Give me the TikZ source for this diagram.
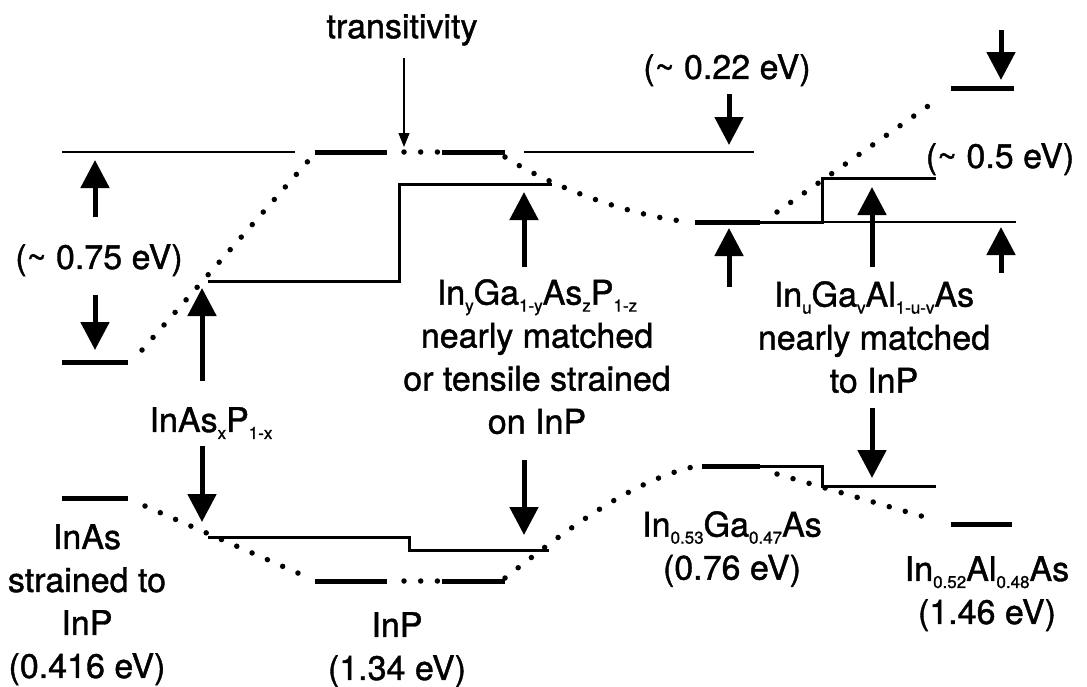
\documentclass[tikz,border=0pt]{standalone}
\usepackage{fontspec}
\setmainfont{TeX Gyre Heros}[FakeBold=1.2]
\usetikzlibrary{arrows.meta}
\newcommand{\lsb}[1]{\raisebox{-7pt}{\fontsize{17}{17}\selectfont #1}}

\begin{document}
\begin{tikzpicture}[
  x=1pt, y=-1pt,
  lbl/.style={inner sep=0pt, anchor=north, align=center, font=\fontsize{34}{43}\selectfont},
  reflevel/.style={line width=1.7pt},
  steplevel/.style={line width=3pt, line join=miter},
  bandbar/.style={line width=5pt},
  dotline/.style={line width=5.5pt, line cap=round, dash pattern=on 0pt off 16.7pt},
  bigarrow/.style={line width=5pt, -{Triangle[width=28pt,length=28pt]}},
  smallarrow/.style={line width=1.2pt, -{Triangle[width=11pt,length=14pt]}}
]
  \useasboundingbox (0,0) rectangle (1087,686);

  % --- Reference levels ---
  \draw[reflevel] (62,152) -- (295,152);
  \draw[reflevel] (524,152) -- (754,152);
  \draw[reflevel] (822,222) -- (1016,222);

  % --- Binaries and lattice-matched ternaries ---
  \draw[bandbar] (62,362) -- (128,362);
  \draw[bandbar] (62,498) -- (128,498);
  \draw[bandbar] (315,152) -- (387,152);
  \draw[bandbar] (442,152) -- (505,152);
  \draw[bandbar] (315,581) -- (387,581);
  \draw[bandbar] (442,581) -- (505,581);
  \draw[bandbar] (695,222) -- (760,222);
  \draw[bandbar] (702,466) -- (760,466);
  \draw[bandbar] (951,88) -- (1014,88);
  \draw[bandbar] (951,524) -- (1012,524);

  % --- Alloy steps ---
  \draw[steplevel] (208,281) -- (399,281) -- (399,184) -- (552,184);
  \draw[steplevel] (208,537) -- (409,537) -- (409,550) -- (549,550);
  \draw[steplevel] (695,222) -- (822,222) -- (822,178) -- (936,178);
  \draw[steplevel] (702,466) -- (822,466) -- (822,486) -- (936,486);

  % --- Dotted interpolations ---
  \draw[dotline] (142,350) -- (309,160);
  \draw[dotline] (145,506) -- (307,577);
  \draw[dotline] (404,152) -- (438,152);
  \draw[dotline] (404,581) -- (438,581);
  \draw[dotline] (505,157) .. controls (540,180) and (620,215) .. (690,222);
  \draw[dotline] (505,578) .. controls (560,535) and (630,480) .. (697,466);
  \draw[dotline] (777,212) -- (941,97);
  \draw[dotline] (777,474) -- (935,520);

  % --- Arrows ---
  \draw[smallarrow] (404,58) -- (404,147);
  \draw[bigarrow] (95,217) -- (95,160);
  \draw[bigarrow] (95,295) -- (95,350);
  \draw[bigarrow] (202,381) -- (202,288);
  \draw[bigarrow] (202,446) -- (202,522);
  \draw[bigarrow] (524,267) -- (524,192);
  \draw[bigarrow] (524,460) -- (524,535);
  \draw[bigarrow] (729,94) -- (729,145);
  \draw[bigarrow] (729,287) -- (729,228);
  \draw[bigarrow] (872,267) -- (872,187);
  \draw[bigarrow] (872,408) -- (872,478);
  \draw[bigarrow] (1001,30) -- (1001,80);
  \draw[bigarrow] (1001,273) -- (1001,227);

  % --- Labels ---
  \node[lbl] (trans) at (402,14) {transitivity};
  \node[lbl] (gap75) at (99,244) {(\textasciitilde{} 0.75 eV)};
  \node[lbl] (gap22) at (727,54) {(\textasciitilde{} 0.22 eV)};
  \node[lbl] (gap5) at (1000,143) {(\textasciitilde{} 0.5 eV)};
  \node[lbl] (inasp) at (211,407) {InAs\lsb{x}P\lsb{1-x}};
  \node[lbl] (inas) at (87,524) {InAs\\strained to\\InP\\(0.416 eV)};
  \node[lbl] (ingaasp) at (537,279) {In\lsb{y}Ga\lsb{1-y}As\lsb{z}P\lsb{1-z}\\nearly matched\\or tensile strained\\on InP};
  \node[lbl] (inp) at (397,612) {InP\\(1.34 eV)};
  \node[lbl] (ingaas) at (732,511) {In\lsb{0.53}Ga\lsb{0.47}As\\(0.76 eV)};
  \node[lbl] (ingaalas) at (874,281) {In\lsb{u}Ga\lsb{v}Al\lsb{1-u-v}As\\nearly matched\\to InP};
  \node[lbl] (inalas) at (987,556) {In\lsb{0.52}Al\lsb{0.48}As\\(1.46 eV)};

\end{tikzpicture}
\end{document}
